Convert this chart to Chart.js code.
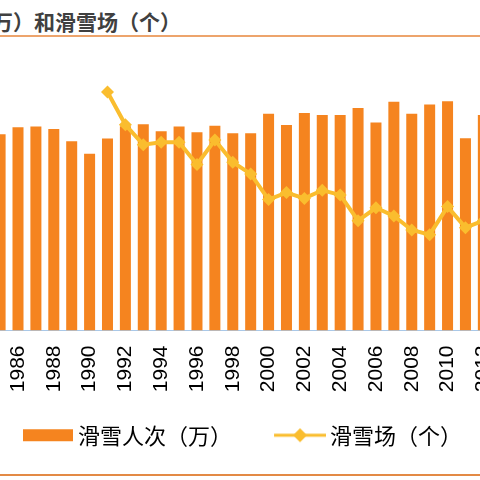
<!DOCTYPE html>
<html><head><meta charset="utf-8">
<script src="https://cdn.jsdelivr.net/npm/chart.js@4"></script>
<style>
html,body{margin:0;padding:0;width:480px;height:480px;overflow:hidden;background:#fff;position:relative;}
#title{position:absolute;left:-8px;top:7px;font:bold 21px "Noto Sans CJK SC";color:#404040;white-space:nowrap;line-height:28px;}
#rule1{position:absolute;left:0;top:35px;width:480px;height:2px;background:#EDA46C;}
#rule2{position:absolute;left:0;top:474px;width:480px;height:2px;background:#E38A45;}
#wrap{position:absolute;left:-20px;top:50px;width:512.35px;height:420px;}
</style></head><body>
<div id="title">万）和滑雪场（个）</div>
<div id="rule1"></div>
<div id="wrap"><canvas id="c"></canvas></div>
<div id="rule2"></div>
<script>
const years = [1985,1986,1987,1988,1989,1990,1991,1992,1993,1994,1995,1996,1997,1998,1999,2000,2001,2002,2003,2004,2005,2006,2007,2008,2009,2010,2011,2012];
const skierVisits = [4900,5070,5090,5030,4720,4410,4790,5100,5150,4970,5090,4950,5110,4920,4925,5410,5130,5430,5380,5375,5550,5190,5710,5410,5640,5720,4800,5375];
const skiAreas = [null,null,null,null,null,null,604,576,559,561,561,542,563,544,534,512,518,513,520,516,494,505,498,486,482,506,488,494];
const seriesNames = ['滑雪人次（万）','滑雪场（个）'];

const BAR = '#F5841F', LINE = '#FABD2E';
function swatch(kind){
  const c = document.createElement('canvas');
  c.width = 76; c.height = 18;
  const g = c.getContext('2d');
  if (kind === 'bar') { g.fillStyle = BAR; g.fillRect(25, 3, 50, 12); }
  else {
    g.strokeStyle = LINE; g.lineWidth = 3;
    g.beginPath(); g.moveTo(24, 9); g.lineTo(76, 9); g.stroke();
    g.fillStyle = LINE; g.beginPath();
    g.moveTo(50, 2); g.lineTo(57, 9); g.lineTo(50, 16); g.lineTo(43, 9); g.closePath(); g.fill();
  }
  return c;
}
const swatches = { bar: swatch('bar'), line: swatch('line') };
const EXTRA_GAP = -8;

const chart = new Chart(document.getElementById('c'), {
  data: {
    labels: years,
    datasets: [
      { type:'line', label: seriesNames[1], data: skiAreas, yAxisID:'y2', borderColor: LINE, backgroundColor: LINE,
        borderWidth: 4, pointStyle:'rectRot', pointRadius: 6.5, pointBorderWidth: 0, pointBackgroundColor: LINE, tension: 0, order: 0 },
      { type:'bar', label: seriesNames[0], data: skierVisits, yAxisID:'y', backgroundColor: BAR,
        categoryPercentage: 1, barPercentage: 0.615, order: 1 }
    ]
  },
  options: {
    responsive: true, maintainAspectRatio: false, animation: false,
    layout: { padding: 0, autoPadding: false },
    plugins: {
      tooltip: { enabled: false },
      legend: {
        position: 'bottom', reverse: true, align: 'start',
        labels: {
          usePointStyle: true, pointStyleWidth: 62, padding: 25,
          color: '#000', font: { family: '"Noto Sans CJK SC"', size: 22 },
          generateLabels(ch) {
            const items = Chart.defaults.plugins.legend.labels.generateLabels(ch);
            items.forEach(it => { it.pointStyle = ch.data.datasets[it.datasetIndex].type === 'bar' ? swatches.bar : swatches.line; });
            return items;
          }
        }
      }
    },
    scales: {
      x: {
        grid: { display: false, drawTicks: false },
        border: { color: '#A9C8E8', width: 1 },
        ticks: { autoSkip: false, minRotation: 90, maxRotation: 90, padding: 15, color: '#000',
          font: { family: '"Liberation Sans"', size: 21 },
          callback(v, i) { const y = years[i]; return y % 2 === 0 ? String(y) : ''; } },
        afterFit(s) { s.paddingLeft = 11.15; s.paddingRight = 0; s.height += EXTRA_GAP; }
      },
      y: { display: false, min: 0, max: 7000 },
      y2: { display: false, min: 400, max: 640, position: 'right' }
    }
  }
});
// fit the wrapper height so that the plot area spans the intended band
const wrap = document.getElementById('wrap');
const hOld = wrap.getBoundingClientRect().height;
wrap.style.height = (hOld + (280.5 - chart.chartArea.bottom)) + 'px';
chart.resize();
</script>
</body></html>
